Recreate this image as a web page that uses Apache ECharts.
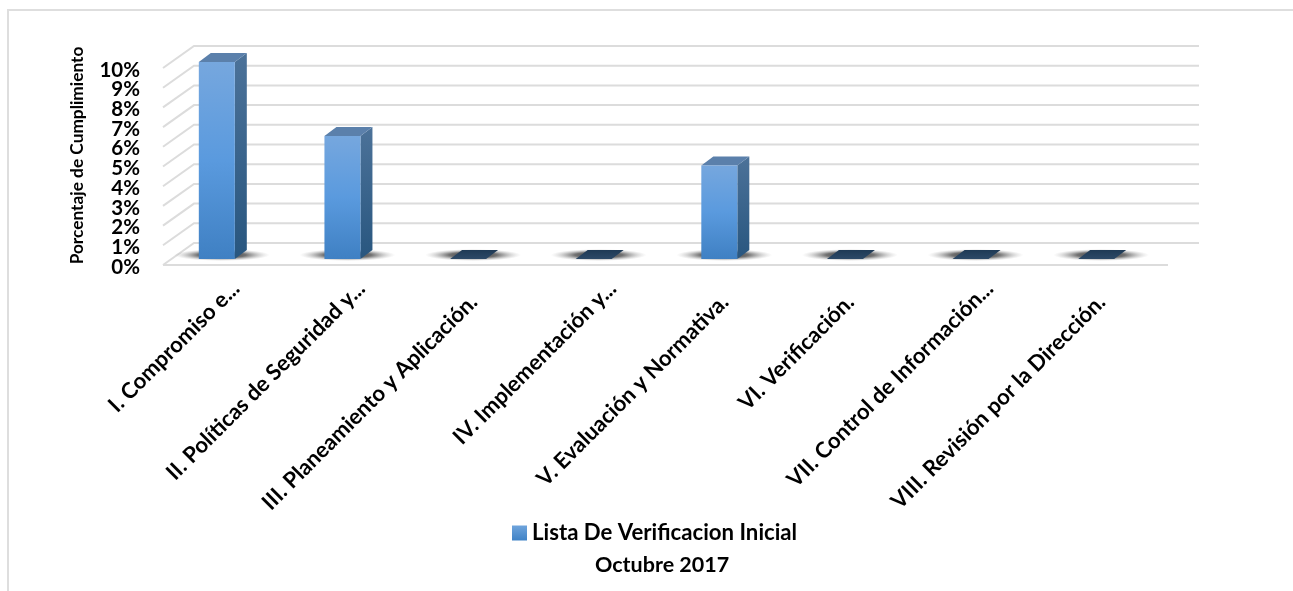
<!DOCTYPE html>
<html><head><meta charset="utf-8">
<style>html,body{margin:0;padding:0;background:#fff}#c{width:1293px;height:591px}</style>
<script src="https://cdn.jsdelivr.net/npm/echarts@6/dist/echarts.min.js"></script>
</head><body><div id="c"></div>
<script>
const categories = ["I. Compromiso e...","II. Políticas de Seguridad y...","III. Planeamiento y Aplicación.","IV. Implementación y...","V. Evaluación y Normativa.","VI. Verificación.","VII. Control de Información...","VIII. Revisión por la Dirección."];
const values = [10,6.25,0,0,4.75,0,0,0];
const wallTicks = [0,1,2,3,4,5,6,7,8,9,10];
const seriesName = "Lista De Verificacion Inicial";
const subtitle = "Octubre 2017";
const axisName = "Porcentaje de Cumplimiento";

const FONT = "Lato";
const SHIFT = 10, WALL_DX = 31, WALL_DY = -22;
const OFF_X = -19, OFF_Y = -6, BAR_W = 36, DEPTH_X = 12, DEPTH_Y = -9;
const vgrad = (a,b)=>new echarts.graphic.LinearGradient(0,0,0,1,[{offset:0,color:a},{offset:1,color:b}]);
const FRONT = ()=>new echarts.graphic.LinearGradient(0,0,0,1,[{offset:0,color:'#76a7de'},{offset:.5,color:'#5a9ade'},{offset:1,color:'#3f80c3'}]);
const GRID_COLOR = '#dcdcdc';
const xLabelStyle = {fontFamily:FONT,fontWeight:'bold',fontSize:22,color:'#000'};
const yLabel = (extra)=>({margin:23+SHIFT,hideOverlap:false,formatter:v=>`{t|${v}%}`,
  rich:{t:{fontFamily:FONT,fontWeight:'bold',fontSize:20.5,color:'#000',height:12,lineHeight:12,padding:[4,0,0,0]}},...extra});
const yBase = {type:'value',min:0,max:10,position:'left',axisLine:{show:false},axisTick:{show:false},splitLine:{show:false}};

const chart = echarts.init(document.getElementById('c'),null,{renderer:'canvas'});
chart.setOption({
  animation:false,
  backgroundColor:'#fff',
  graphic:[{type:'polyline',silent:true,z:-10,shape:{points:[[8,591],[8,10],[1293,10]]},style:{fill:'none',stroke:'#dedede',lineWidth:2}}],
  title:{text:subtitle,left:595,top:554,padding:0,textStyle:{fontFamily:FONT,fontWeight:'bold',fontSize:21.5,color:'#000'}},
  legend:{data:[seriesName],left:512,top:522,padding:0,itemWidth:15,itemHeight:15,itemGap:6,icon:'rect',
    textStyle:{fontFamily:FONT,fontWeight:'bold',fontSize:22.2,color:'#000'}},
  grid:{left:163+SHIFT,width:1005,top:68,height:197,containLabel:false},
  xAxis:{type:'category',data:categories,axisLine:{show:false},axisTick:{show:false},splitLine:{show:false},
    axisLabel:{interval:0,rotate:45,margin:20,hideOverlap:false,...xLabelStyle,
      formatter:v=>v.endsWith('...')?`{a|${v}}`:`{b|${v}}`,
      rich:{a:{...xLabelStyle},b:{...xLabelStyle,padding:[0,19,0,0]}}}},
  yAxis:[
    {...yBase,interval:1,name:axisName,nameLocation:'middle',nameGap:87+SHIFT-10,nameRotate:90,
      nameTextStyle:{fontFamily:FONT,fontWeight:'bold',fontSize:17.3,color:'#000',padding:[0,0,0,22]},
      axisLabel:yLabel({showMinLabel:false,showMaxLabel:false})},
    {...yBase,interval:10,axisLabel:yLabel({showMinLabel:true,showMaxLabel:true})}
  ],
  series:[
    {type:'custom',name:'wall',silent:true,z:1,data:wallTicks.map(v=>[0,v]),encode:{x:0,y:1},
      renderItem(p,api){
        const cs=p.coordSys, y=api.coord([0,api.value(1)])[1], l=cs.x-SHIFT, r=l+cs.width;
        const pts=[[l,y],[l+WALL_DX,y+WALL_DY],[r+WALL_DX,y+WALL_DY]];
        const kids=[{type:'polyline',shape:{points:pts},style:{stroke:GRID_COLOR,lineWidth:2,fill:'none'}}];
        if(api.value(1)===0) kids.push({type:'line',shape:{x1:l,y1:y,x2:r,y2:y},style:{stroke:GRID_COLOR,lineWidth:2}});
        return {type:'group',children:kids};
      }},
    {type:'custom',name:'shadow',silent:true,z:2,data:values.map((v,i)=>[i,v]),encode:{x:0,y:1},
      renderItem(p,api){
        const c=api.coord([api.value(0),0]);
        return {type:'circle',x:c[0]+OFF_X+5,y:c[1]+OFF_Y-4,scaleX:8,scaleY:1,shape:{cx:0,cy:0,r:6},
          style:{fill:new echarts.graphic.RadialGradient(.5,.5,.5,[{offset:0,color:'rgba(15,15,15,.9)'},{offset:.5,color:'rgba(40,40,40,.65)'},{offset:.78,color:'rgba(90,90,90,.25)'},{offset:1,color:'rgba(150,150,150,0)'}])}};
      }},
    {type:'custom',name:seriesName,z:3,itemStyle:{color:vgrad('#6fa4dc','#3f82c6')},data:values.map((v,i)=>[i,v]),encode:{x:0,y:1},
      renderItem(p,api){
        const i=api.value(0), v=api.value(1), b=api.coord([i,0]), t=api.coord([i,v]);
        const x0=b[0]+OFF_X-BAR_W/2, x1=x0+BAR_W, yb=b[1]+OFF_Y, yt=t[1]+OFF_Y;
        if(v===0) return {type:'polygon',shape:{points:[[x0,yb],[x1,yb],[x1+DEPTH_X,yb+DEPTH_Y],[x0+DEPTH_X,yb+DEPTH_Y]]},style:{fill:vgrad('#1f3a55','#2c4967')}};
        return {type:'group',children:[
          {type:'polygon',shape:{points:[[x1,yb],[x1+DEPTH_X,yb+DEPTH_Y],[x1+DEPTH_X,yt+DEPTH_Y],[x1,yt]]},style:{fill:vgrad('#4c7299','#28567f')}},
          {type:'polygon',shape:{points:[[x0,yt],[x1,yt],[x1+DEPTH_X,yt+DEPTH_Y],[x0+DEPTH_X,yt+DEPTH_Y]]},style:{fill:'#5b80ab'}},
          {type:'rect',shape:{x:x0,y:yt,width:BAR_W,height:yb-yt},style:{fill:FRONT()}}
        ]};
      }}
  ]
});
</script></body></html>
